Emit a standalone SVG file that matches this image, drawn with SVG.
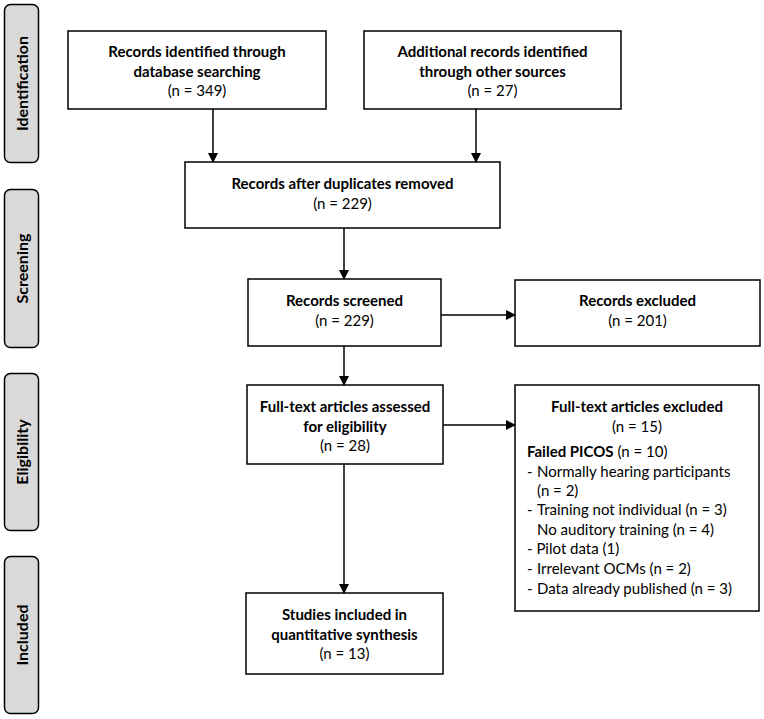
<svg xmlns="http://www.w3.org/2000/svg" width="764" height="719" viewBox="0 0 764 719">
<style>
.box{fill:#fff;stroke:#000;stroke-width:1.5}
.side{fill:#d9d9d9;stroke:#000;stroke-width:1.5}
text{font-family:Lato,"Open Sans","Liberation Sans",sans-serif;font-size:15px;fill:#000}
.b{font-weight:bold}
.c{text-anchor:middle}
.st{font-weight:bold;font-size:16px;text-anchor:middle}
.ln{stroke:#000;stroke-width:1.5;fill:none}
</style>
<defs>
<marker id="ah" markerWidth="10" markerHeight="10" refX="9" refY="5" orient="auto" markerUnits="userSpaceOnUse">
<path d="M0,0 L10,5 L0,10 Z" fill="#000"/>
</marker>
</defs>
<g id="side-identification"><rect class="side" x="4.5" y="4.5" width="34" height="158" rx="6"/><text class="st" transform="translate(27.5,83.5) rotate(-90)">Identification</text></g>
<g id="side-screening"><rect class="side" x="4.5" y="189.5" width="34" height="158" rx="6"/><text class="st" transform="translate(27.5,268.5) rotate(-90)">Screening</text></g>
<g id="side-eligibility"><rect class="side" x="4.5" y="373.5" width="34" height="157" rx="6"/><text class="st" transform="translate(27.5,452) rotate(-90)">Eligibility</text></g>
<g id="side-included"><rect class="side" x="4.5" y="556.5" width="34" height="157" rx="6"/><text class="st" transform="translate(27.5,635) rotate(-90)">Included</text></g>

<g id="n1"><rect class="box" x="68" y="31" width="258" height="78"/>
<text class="c" x="197" y="57"><tspan class="b">Records identified through</tspan><tspan class="b" x="197" dy="20">database searching</tspan><tspan x="197" dy="19">(n = 349)</tspan></text></g>
<g id="n2"><rect class="box" x="364" y="31" width="257" height="78"/>
<text class="c" x="492.5" y="57"><tspan class="b">Additional records identified</tspan><tspan class="b" x="492.5" dy="20">through other sources</tspan><tspan x="492.5" dy="19">(n = 27)</tspan></text></g>
<g id="n3"><rect class="box" x="185" y="162" width="315" height="66"/>
<text class="c" x="342.5" y="189"><tspan class="b">Records after duplicates removed</tspan><tspan x="342.5" dy="20">(n = 229)</tspan></text></g>
<g id="n4"><rect class="box" x="248" y="279" width="193" height="67"/>
<text class="c" x="344.5" y="306"><tspan class="b">Records screened</tspan><tspan x="344.5" dy="20">(n = 229)</tspan></text></g>
<g id="n5"><rect class="box" x="515" y="280" width="245" height="66"/>
<text class="c" x="637.5" y="306"><tspan class="b">Records excluded</tspan><tspan x="637.5" dy="20">(n = 201)</tspan></text></g>
<g id="n6"><rect class="box" x="247" y="385" width="196" height="79"/>
<text class="c" x="345" y="412"><tspan class="b">Full-text articles assessed</tspan><tspan class="b" x="345" dy="20">for eligibility</tspan><tspan x="345" dy="19">(n = 28)</tspan></text></g>
<g id="n7"><rect class="box" x="515" y="385" width="244" height="226"/>
<text class="c" x="637" y="412"><tspan class="b">Full-text articles excluded</tspan><tspan x="637" dy="20">(n = 15)</tspan></text>
<text x="527" y="457"><tspan class="b">Failed PICOS</tspan> (n = 10)</text>
<text x="527" y="477">-</text><text x="537" y="477">Normally hearing participants</text>
<text x="537" y="496">(n = 2)</text>
<text x="527" y="515">-</text><text x="537" y="515">Training not individual (n = 3)</text>
<text x="537" y="535">No auditory training (n = 4)</text>
<text x="527" y="554">- Pilot data (1)</text>
<text x="527" y="574">-</text><text x="537" y="574">Irrelevant OCMs (n = 2)</text>
<text x="527" y="594">-</text><text x="537" y="594">Data already published (n = 3)</text></g>
<g id="n8"><rect class="box" x="246" y="593" width="197" height="81"/>
<text class="c" x="344.5" y="620"><tspan class="b">Studies included in</tspan><tspan class="b" x="344.5" dy="20">quantitative synthesis</tspan><tspan x="344.5" dy="19">(n = 13)</tspan></text></g>

<g id="connectors">
<line class="ln" x1="213" y1="109" x2="213" y2="162" marker-end="url(#ah)"/>
<line class="ln" x1="476" y1="109" x2="476" y2="162" marker-end="url(#ah)"/>
<line class="ln" x1="344" y1="228" x2="344" y2="279" marker-end="url(#ah)"/>
<line class="ln" x1="441" y1="315" x2="515" y2="315" marker-end="url(#ah)"/>
<line class="ln" x1="344" y1="346" x2="344" y2="385" marker-end="url(#ah)"/>
<line class="ln" x1="443" y1="425" x2="515" y2="425" marker-end="url(#ah)"/>
<line class="ln" x1="344" y1="464" x2="344" y2="593" marker-end="url(#ah)"/>
</g>
</svg>
